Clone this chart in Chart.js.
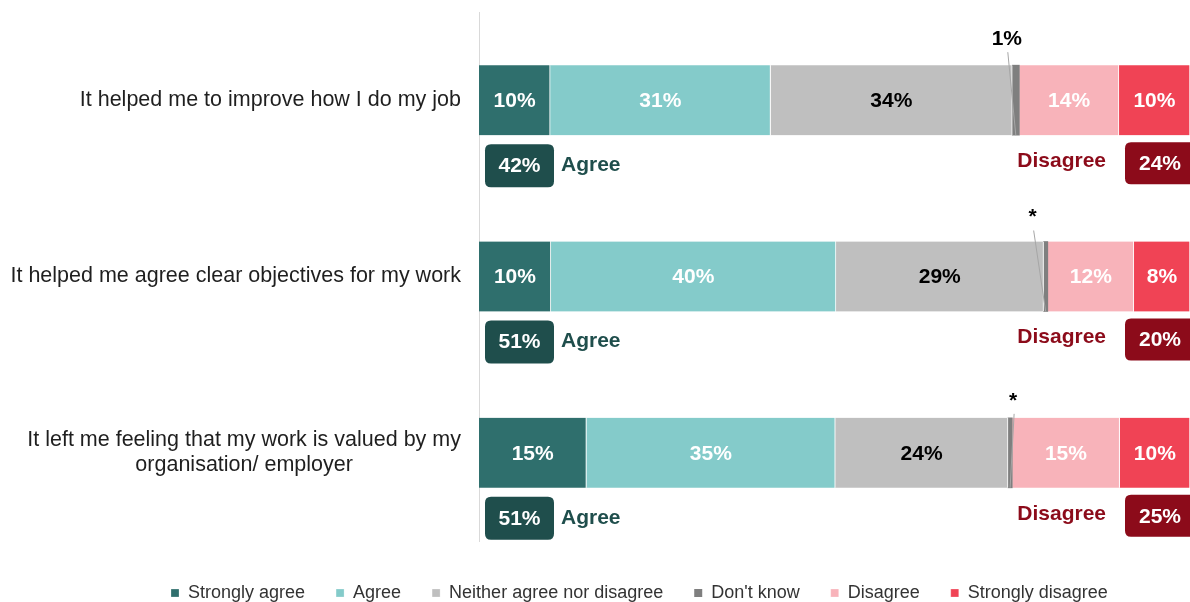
<!DOCTYPE html>
<html>
<head>
<meta charset="utf-8">
<script src="https://cdn.jsdelivr.net/npm/chart.js@4.4.1/dist/chart.umd.min.js"></script>
<style>
  html, body { margin: 0; padding: 0; background: #fff; }
</style>
</head>
<body>
<canvas id="chart" width="1190" height="602"></canvas>
<script>
const statements = [
  'It helped me to improve how I do my job',
  'It helped me agree clear objectives for my work',
  ['It left me feeling that my work is valued by my', 'organisation/ employer']
];

const seriesNames = ['Strongly agree', 'Agree', 'Neither agree nor disagree', "Don't know", 'Disagree', 'Strongly disagree'];

const stronglyAgree = [10, 10.1, 15.1];
const agree = [31, 40.1, 35.0];
const neither = [34, 29.2, 24.3];
const dontKnow = [1, 0.6, 0.6];
const disagree = [14, 12.1, 15.1];
const stronglyDisagree = [10, 7.9, 9.9];

const agreeTotals = [42, 51, 51];
const disagreeTotals = [24, 20, 25];

const seriesColors = ['#2F6F6D', '#84CBCA', '#BFBFBF', '#7F7F7F', '#F8B3BA', '#F04355'];
const labelColors = ['#fff', '#fff', '#000', '#000', '#fff', '#fff'];
const AGREE_DARK = '#1F4E4C';
const DISAGREE_DARK = '#8C0B1A';
const FONT = '"Liberation Sans", Arial, sans-serif';

Chart.defaults.font.family = FONT;

function roundBox(ctx, x, y, w, h, r) {
  ctx.beginPath();
  ctx.moveTo(x + r, y);
  ctx.lineTo(x + w - r, y);
  ctx.quadraticCurveTo(x + w, y, x + w, y + r);
  ctx.lineTo(x + w, y + h - r);
  ctx.quadraticCurveTo(x + w, y + h, x + w - r, y + h);
  ctx.lineTo(x + r, y + h);
  ctx.quadraticCurveTo(x, y + h, x, y + h - r);
  ctx.lineTo(x, y + r);
  ctx.quadraticCurveTo(x, y, x + r, y);
  ctx.closePath();
}

// values on the bars, small "don't know" ones get a callout above
const barLabels = {
  id: 'barLabels',
  afterDatasetsDraw(chart, args, opts) {
    const ctx = chart.ctx;
    ctx.save();
    ctx.font = 'bold 21px ' + FONT;
    ctx.textAlign = 'center';
    ctx.textBaseline = 'middle';
    chart.data.datasets.forEach((ds, di) => {
      chart.getDatasetMeta(di).data.forEach((bar, i) => {
        const v = ds.data[i];
        const text = v < 1 ? '*' : Math.round(v) + '%';
        const cx = (bar.x + bar.base) / 2;
        if (di === opts.calloutDataset) {
          const off = opts.calloutOffsets[i];
          const lx = cx + off[0];
          const ly = bar.y - bar.height / 2 + off[1];
          ctx.strokeStyle = '#A6A6A6';
          ctx.lineWidth = 1;
          ctx.beginPath();
          ctx.moveTo(lx + 1, ly + 13);
          ctx.lineTo(cx, bar.y + bar.height / 2);
          ctx.stroke();
          ctx.fillStyle = '#000';
          ctx.fillText(text, lx, ly);
          return;
        }
        ctx.fillStyle = labelColors[di];
        ctx.fillText(text, cx, bar.y + 1);
      });
    });
    ctx.restore();
  }
};

// "42% Agree" / "Disagree 24%" boxes under each bar
const summaryBoxes = {
  id: 'summaryBoxes',
  afterDatasetsDraw(chart) {
    const ctx = chart.ctx;
    const xs = chart.scales.x;
    ctx.save();
    ctx.font = 'bold 21px ' + FONT;
    ctx.textBaseline = 'middle';
    chart.getDatasetMeta(0).data.forEach((bar, i) => {
      const bottom = bar.y + bar.height / 2;

      const ax = xs.getPixelForValue(0) + 6, ay = bottom + 9;
      ctx.fillStyle = AGREE_DARK;
      roundBox(ctx, ax, ay, 69, 43, 6);
      ctx.fill();
      ctx.fillStyle = '#fff';
      ctx.textAlign = 'center';
      ctx.fillText(agreeTotals[i] + '%', ax + 34.5, ay + 22);
      ctx.fillStyle = AGREE_DARK;
      ctx.textAlign = 'left';
      ctx.fillText('Agree', ax + 76, ay + 21);

      const dx = xs.getPixelForValue(100) - 65, dy = bottom + 7;
      ctx.fillStyle = DISAGREE_DARK;
      roundBox(ctx, dx, dy, 72, 42, 6);
      ctx.fill();
      ctx.fillStyle = '#fff';
      ctx.textAlign = 'center';
      ctx.fillText(disagreeTotals[i] + '%', dx + 35, dy + 22);
      ctx.fillStyle = DISAGREE_DARK;
      ctx.textAlign = 'right';
      ctx.fillText('Disagree', dx - 19, dy + 19);
    });
    ctx.restore();
  }
};

// statements on the left, wrapped lines centred in their block
const categoryLabels = {
  id: 'categoryLabels',
  afterDraw(chart) {
    const ctx = chart.ctx;
    const ys = chart.scales.y;
    const right = chart.chartArea.left - 18;
    ctx.save();
    ctx.font = '21.5px ' + FONT;
    ctx.fillStyle = '#1f1f1f';
    ctx.textAlign = 'center';
    ctx.textBaseline = 'middle';
    chart.data.labels.forEach((label, i) => {
      const lines = Array.isArray(label) ? label : [label];
      const w = Math.max(...lines.map(l => ctx.measureText(l).width));
      const cy = ys.getPixelForValue(i);
      lines.forEach((line, k) => {
        ctx.fillText(line, right - w / 2, cy + (k - (lines.length - 1) / 2) * 25);
      });
    });
    ctx.restore();
  }
};

const legendPlacement = {
  id: 'legendPlacement',
  afterLayout(chart, args, opts) {
    const lg = chart.legend;
    if (!lg) return;
    lg.left = opts.startX - lg.options.labels.padding;
    lg.top += opts.shiftY;
    lg.bottom += opts.shiftY;
  }
};

const seriesValues = [stronglyAgree, agree, neither, dontKnow, disagree, stronglyDisagree];

new Chart(document.getElementById('chart'), {
  type: 'bar',
  data: {
    labels: statements,
    datasets: seriesNames.map((name, k) => ({
      label: name,
      data: seriesValues[k],
      backgroundColor: seriesColors[k],
      borderColor: '#fff',
      borderWidth: k === 3 ? 0 : { left: 0, top: 0, bottom: 0, right: 1 },
      borderSkipped: false,
      barThickness: 70
    }))
  },
  options: {
    responsive: false,
    animation: false,
    indexAxis: 'y',
    layout: { padding: { top: 12, bottom: 2, left: 0, right: 0 } },
    plugins: {
      legend: {
        position: 'bottom',
        align: 'start',
        labels: {
          boxWidth: 8,
          boxHeight: 8,
          padding: 31,
          color: '#333',
          font: { size: 18 }
        }
      },
      tooltip: { enabled: false },
      barLabels: {
        calloutDataset: 3,
        calloutOffsets: [[-9, -26], [-13, -24], [3, -17]]
      },
      legendPlacement: { startX: 171, shiftY: 12 }
    },
    scales: {
      x: { stacked: true, min: 0, max: 100, display: false },
      y: {
        stacked: true,
        grid: { display: false },
        border: { display: true, color: '#D9D9D9', width: 1 },
        ticks: { display: false },
        afterFit: (scale) => { scale.width = 479; }
      }
    }
  },
  plugins: [barLabels, summaryBoxes, categoryLabels, legendPlacement]
});
</script>
</body>
</html>
